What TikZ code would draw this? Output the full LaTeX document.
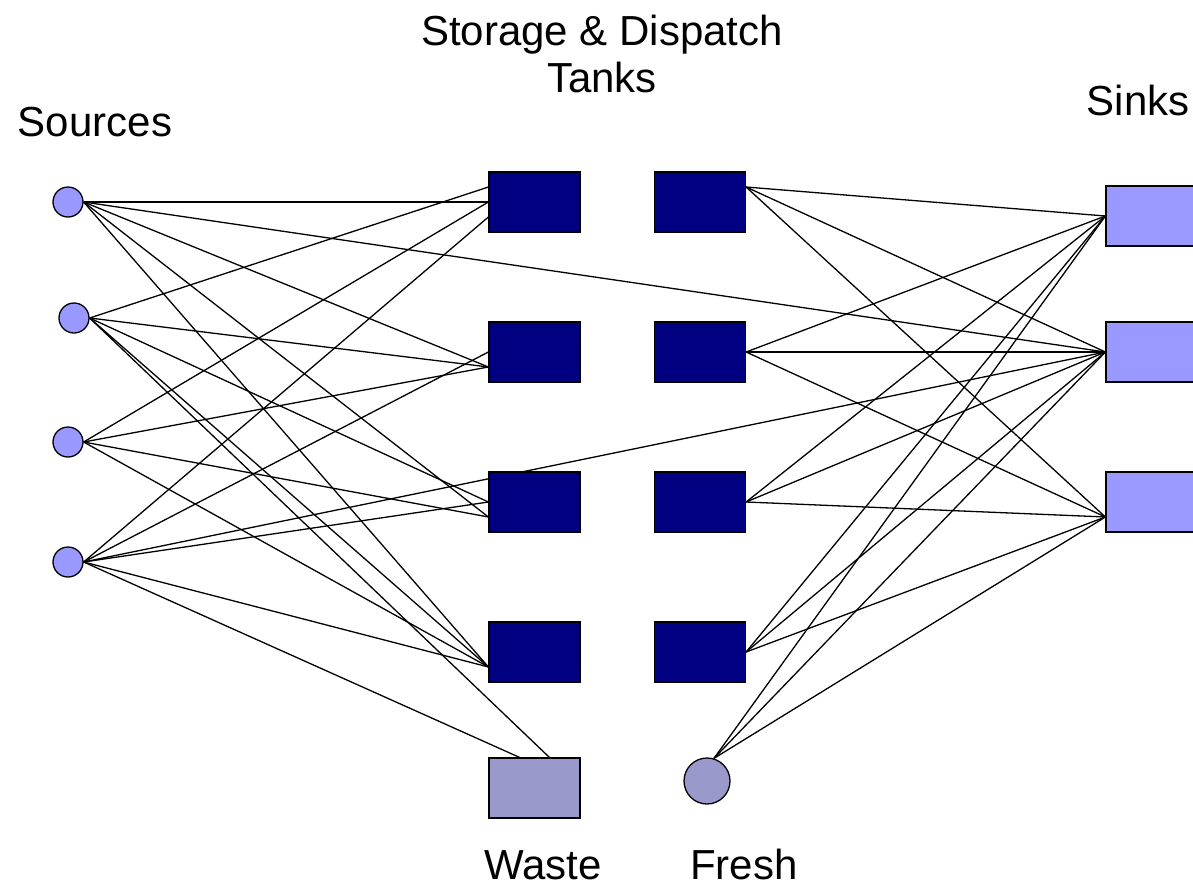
\documentclass[tikz,border=0pt]{standalone}
\usepackage{fontspec}
\setmainfont{Liberation Sans}
\usetikzlibrary{positioning, backgrounds}
\definecolor{tanknavy}{RGB}{0,0,128}
\definecolor{srcblue}{RGB}{153,153,255}
\definecolor{utilgrey}{RGB}{153,153,204}

\begin{document}
\begin{tikzpicture}[x=1pt, y=-1pt,
    src/.style={circle, draw, fill=srcblue, minimum size=30pt, inner sep=0pt, line width=1.3pt},
    tank/.style={rectangle, draw, fill=tanknavy, minimum width=91pt, minimum height=60pt, inner sep=0pt, line width=1.2pt},
    sinkbox/.style={tank, fill=srcblue},
    wastebox/.style={tank, fill=utilgrey},
    freshsrc/.style={circle, draw, fill=utilgrey, minimum size=46pt, inner sep=0pt, line width=1.3pt},
    pipe/.style={line width=1.3pt},
    mylabel/.style={font=\fontsize{42}{48}\selectfont, inner sep=0pt, anchor=base}
    ]
\useasboundingbox (0,0) rectangle (1193,889);

% sources
\node[src] (s1) at (68,202) {};
\node[src] (s2) at (74,318) {};
\node[src] (s3) at (68,442) {};
\node[src] (s4) at (68,562) {};

% storage and dispatch tanks
\foreach \k/\y in {1/202, 2/352, 3/502, 4/652} {
    \node[tank] (tL\k) at (534.5,\y) {};
    \node[tank] (tR\k) at (700,\y) {};
}
\node[wastebox] (waste) at (534.5,788) {};
\node[freshsrc] (fresh) at (707,781) {};

% sinks
\node[sinkbox] (sk1) at (1151.5,216) {};
\node[sinkbox] (sk2) at (1151.5,352) {};
\node[sinkbox] (sk3) at (1151.5,502) {};

\begin{scope}[on background layer]
\foreach \i/\j in {s1.east/tL1.west, s2.east/tL1.162, s3.east/tL1.west, s4.east/tL1.198,
            s1.east/tL2.198, s2.east/tL2.198, s3.east/tL2.198, s4.east/tL2.west,
            s1.east/tL3.198, s2.east/tL3.west, s3.east/tL3.198, s4.east/tL3.west,
            s1.east/tL4.198, s2.east/tL4.198, s3.east/tL4.198, s4.east/tL4.198,
            s2.east/waste.64, s4.east/waste.116, s1.east/sk2.west, s4.east/sk2.west}
    \draw[pipe] (\i)--(\j);

\foreach \i in {tR1.18, tR2.east, tR3.east, tR4.east, fresh.73}
    \foreach \j in {sk1.west, sk2.west, sk3.198}
        \draw[pipe] (\i)--(\j);
\end{scope}

\node[mylabel] (srclab) at (95,136) {Sources};
\node[mylabel] (title) at (602,45) {Storage \& Dispatch};
\node[mylabel] (title2) at (602,92) {Tanks};
\node[mylabel] (sklab) at (1138,115) {Sinks};
\node[mylabel] (wlab) at (543,879) {Waste};
\node[mylabel] (flab) at (744,879) {Fresh};

\end{tikzpicture}
\end{document}
